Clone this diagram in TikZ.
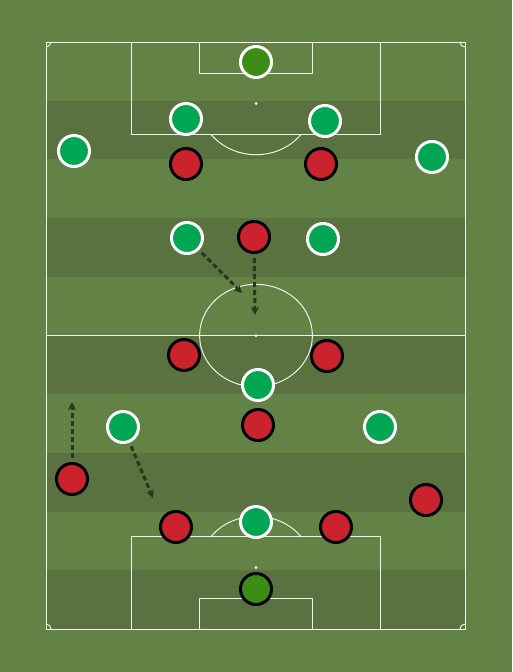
\documentclass[tikz,border=0pt]{standalone}
\usepackage{tikz}
\usetikzlibrary{
    positioning,
    arrows.meta,
    shadows
}
\definecolor{grassLight}{RGB}{99, 130, 69}
\definecolor{grassDark}{RGB}{90, 114, 64}
\definecolor{homeGreen}{RGB}{0, 166, 81}
\definecolor{keeperGreen}{RGB}{61, 140, 21}
\definecolor{awayRed}{RGB}{204, 34, 46}
\definecolor{runDark}{RGB}{40, 56, 32}

\begin{document}
\begin{tikzpicture}[x=1pt, y=-1pt, >=Stealth,
        pitchline/.style={white, line width=1pt, opacity=0.9},
        player/.style={circle, minimum size=31pt, inner sep=0pt, line width=3pt,
            drop shadow={opacity=0.25, shadow xshift=0pt, shadow yshift=-1pt}},
        home/.style={player, fill=homeGreen, draw=white},
        homekeeper/.style={player, fill=keeperGreen, draw=white},
        away/.style={player, fill=awayRed, draw=black},
        awaykeeper/.style={player, fill=keeperGreen, draw=black},
        run/.style={-{Stealth[length=8pt, width=8pt]}, runDark, line width=3pt,
            dash pattern=on 5pt off 3pt, shorten <=4pt}]
        \useasboundingbox (0,0) rectangle (512,672);

        % Grass
        \fill[grassLight] (0,0) rectangle (512,672);
        \foreach \i in {1,3,5,7,9}
            \fill[grassDark] (46,{42+\i*58.7}) rectangle (465,{42+(\i+1)*58.7});

        % Pitch lines
        \draw[pitchline] (46,42) rectangle (465,629);
        \draw[pitchline] (46,335.5) -- (465,335.5);
        \draw[pitchline] (256,335.5) ellipse [x radius=56.4, y radius=51.2];
        \fill[white] (256,335.5) circle (1.5);

        % Top box
        \draw[pitchline] (131,42) rectangle (380,134.5);
        \draw[pitchline] (199,42) rectangle (312,73);
        \fill[white] (256,103.5) circle (1.5);
        \draw[pitchline] (301.2,134.2) arc[start angle=36.8, end angle=143.2, x radius=56.4, y radius=51.2];

        % Bottom box
        \draw[pitchline] (131,536.5) rectangle (380,629);
        \draw[pitchline] (199,598) rectangle (312,629);
        \fill[white] (256,567.5) circle (1.5);
        \draw[pitchline] (210.8,536.8) arc[start angle=216.8, end angle=323.2, x radius=56.4, y radius=51.2];

        % Corners
        \draw[pitchline] (51,42) arc[start angle=0, end angle=90, radius=5];
        \draw[pitchline] (460,42) arc[start angle=180, end angle=90, radius=5];
        \draw[pitchline] (51,629) arc[start angle=0, end angle=-90, radius=5];
        \draw[pitchline] (460,629) arc[start angle=180, end angle=270, radius=5];

        % Green team
        \node[homekeeper] (hGK) at (256,62) {};
        \node[home] (hLB) at (74,151) {};
        \node[home] (hLCB) at (186,119) {};
        \node[home] (hRCB) at (325,121) {};
        \node[home] (hRB) at (432,157) {};
        \node[home] (hLCM) at (187,238) {};
        \node[home] (hRCM) at (323,239) {};
        \node[home] (hCAM) at (258,385) {};
        \node[home] (hLW) at (123,427) {};
        \node[home] (hRW) at (380,427) {};
        \node[home] (hST) at (256,522) {};

        % Red team
        \node[awaykeeper] (aGK) at (256,589) {};
        \node[away] (aLB) at (72,479) {};
        \node[away] (aLCB) at (176,527) {};
        \node[away] (aRCB) at (336,527) {};
        \node[away] (aRB) at (426,500) {};
        \node[away] (aDM) at (258,425) {};
        \node[away] (aLCM) at (184,355) {};
        \node[away] (aRCM) at (327,356) {};
        \node[away] (aAM) at (254,237) {};
        \node[away] (aLF) at (186,164) {};
        \node[away] (aRF) at (321,164) {};

        % Runs
        \coordinate (runA) at (242,293);
        \coordinate (runB) at (255,315);
        \coordinate (runC) at (72,402);
        \coordinate (runD) at (153,498);
        \draw[run] (hLCM) -- (runA);
        \draw[run] (aAM) -- (runB);
        \draw[run] (aLB) -- (runC);
        \draw[run] (hLW) -- (runD);
    \end{tikzpicture}
\end{document}
